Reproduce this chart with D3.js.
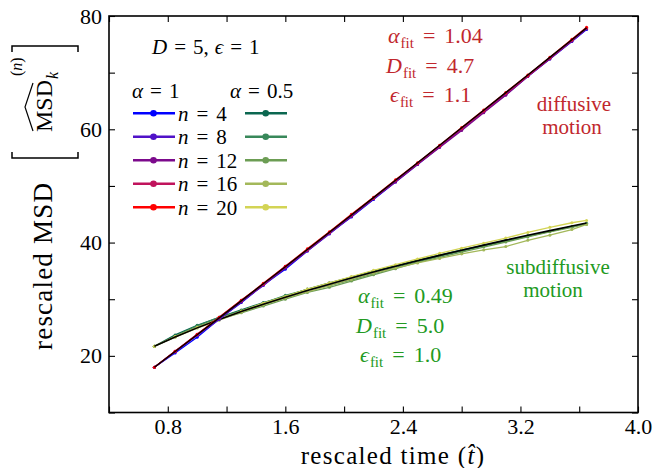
<!DOCTYPE html>
<html><head><meta charset="utf-8">
<script src="https://cdn.jsdelivr.net/npm/d3@7"></script>
<style>body{margin:0;background:#fff}svg{display:block}text{font-family:'Liberation Serif','Times New Roman',serif}</style>
</head><body>
<svg id="chart" width="654" height="468"></svg>
<script>
// ---- data ----
const tHat = [0.709,0.85,1.0,1.15,1.3,1.45,1.6,1.75,1.9,2.05,2.2,2.35,2.5,2.65,2.8,2.95,3.1,3.25,3.4,3.55,3.65];
const nValues = [4,8,12,16,20];
// alpha = 1 (diffusive)
const diffN4  = [18.0,20.5,23.3,26.5,29.4,32.5,35.3,38.5,41.6,44.5,47.6,50.7,53.8,56.9,60.0,63.1,66.1,69.3,72.4,75.5,77.6];
const diffN8  = [18.0,20.7,23.6,26.4,29.6,32.4,35.6,38.5,41.5,44.7,47.7,50.8,53.9,56.9,60.1,63.0,66.2,69.4,72.5,75.6,77.7];
const diffN12 = [18.0,20.8,23.8,26.6,29.5,32.6,35.5,38.6,41.7,44.6,47.8,50.7,53.8,56.8,59.8,62.9,66.0,69.3,72.4,75.6,77.8];
const diffN16 = [18.0,20.8,23.7,26.8,29.8,32.6,35.8,38.7,41.8,44.9,47.8,51.0,54.0,57.1,60.1,63.2,66.3,69.4,72.6,75.7,77.9];
const diffN20 = [18.0,20.8,23.8,26.8,29.8,32.8,35.8,38.9,41.9,45.0,48.0,51.1,54.1,57.2,60.3,63.4,66.5,69.6,72.7,75.9,78.0];
const diffFit = [18.00,20.77,23.73,26.71,29.71,32.72,35.74,38.77,41.82,44.87,47.93,51.00,54.08,57.17,60.26,63.36,66.47,69.58,72.70,75.82,77.91];
// alpha = 0.5 (subdiffusive)
const subN4  = [21.7,23.7,25.4,26.8,28.1,29.4,30.5,31.8,32.9,33.9,35.0,35.9,36.9,37.8,38.7,39.5,40.4,41.2,42.0,42.8,43.3];
const subN8  = [21.7,23.5,25.3,26.8,28.0,29.3,30.7,31.7,32.4,33.4,34.5,35.6,36.6,37.6,38.5,39.4,40.2,41.1,42.0,42.8,43.4];
const subN12 = [21.7,23.4,25.1,26.5,27.6,28.8,30.0,31.2,32.1,33.2,34.3,35.4,36.5,37.4,38.3,39.2,40.1,41.0,41.9,42.7,43.3];
const subN16 = [21.7,23.3,24.9,26.3,27.7,29.0,30.2,31.3,32.4,33.5,34.6,35.5,36.4,37.2,38.0,38.7,39.3,40.4,41.3,42.3,43.2];
const subN20 = [21.7,23.4,25.0,26.5,27.9,29.3,30.5,31.8,32.9,34.0,35.1,36.1,37.1,38.1,39.0,39.9,40.8,41.8,42.7,43.5,43.9];
const subFit = [21.70,23.34,24.94,26.42,27.81,29.11,30.35,31.53,32.66,33.75,34.80,35.81,36.79,37.74,38.65,39.55,40.43,41.28,42.11,42.92,43.46];
const diffColors = ["#0000ff","#5012c8","#7c0a8c","#c0135c","#ff0000"];
const subColors  = ["#0b6750","#38885a","#6c9d54","#a3b85a","#d3d455"];
const xTickValues = [0.4,0.8,1.2,1.6,2.0,2.4,2.8,3.2,3.6,4.0];
const xTickLabels = ["0.8","1.6","2.4","3.2","4.0"];
const yTickValues = [10,20,30,40,50,60,70,80];
const yTickLabels = ["20","40","60","80"];

const diffSeries = [diffN4,diffN8,diffN12,diffN16,diffN20];
const subSeries  = [subN4,subN8,subN12,subN16,subN20];

// ---- layout ----
const SERIF = "'Liberation Serif','Times New Roman',serif";
const L = 109, R = 638, T = 16, B = 412.5;
const svg = d3.select("#chart");
const x = d3.scaleLinear().domain([0.4, 4.0]).range([L, R]);
const y = d3.scaleLinear().domain([10, 80]).range([B, T]);

// axes (inward ticks on all four sides)
const fmtX = d => { const s = d3.format(".1f")(d); return xTickLabels.includes(s) ? s : ""; };
const fmtY = d => { const s = String(d); return yTickLabels.includes(s) ? s : ""; };
function styleAxis(g){ g.attr("font-family",SERIF); g.select(".domain").remove();
  g.selectAll(".tick line").attr("stroke","#000").attr("stroke-width",1.1);
  g.selectAll("text").style("font-family",SERIF).attr("font-size",22).attr("fill","#000"); }
svg.append("g").attr("transform",`translate(0,${B})`)
  .call(d3.axisBottom(x).tickValues(xTickValues).tickFormat(fmtX).tickSizeInner(-6).tickSizeOuter(0).tickPadding(6)).call(styleAxis);
svg.append("g").attr("transform",`translate(0,${T})`)
  .call(d3.axisTop(x).tickValues(xTickValues).tickFormat("").tickSizeInner(-6).tickSizeOuter(0)).call(styleAxis);
svg.append("g").attr("transform",`translate(${L},0)`)
  .call(d3.axisLeft(y).tickValues(yTickValues).tickFormat(fmtY).tickSizeInner(-6).tickSizeOuter(0).tickPadding(7)).call(styleAxis);
svg.append("g").attr("transform",`translate(${R},0)`)
  .call(d3.axisRight(y).tickValues(yTickValues).tickFormat("").tickSizeInner(-6).tickSizeOuter(0)).call(styleAxis);
svg.append("rect").attr("x",L).attr("y",T).attr("width",R-L).attr("height",B-T)
  .attr("fill","none").attr("stroke","#000").attr("stroke-width",1.6);

// ---- series ----
const line = d3.line().x((d,i)=>x(tHat[i])).y(d=>y(d));
function drawSeries(vals, color){
  svg.append("path").datum(vals).attr("d",line).attr("fill","none").attr("stroke",color).attr("stroke-width",1.3);
  svg.append("g").selectAll("circle").data(vals).join("circle")
    .attr("cx",(d,i)=>x(tHat[i])).attr("cy",d=>y(d)).attr("r",1.5).attr("fill",color);
}
subSeries.forEach((s,i)=>drawSeries(s, subColors[i]));
svg.append("path").datum(subFit).attr("d",line).attr("fill","none").attr("stroke","#000").attr("stroke-width",1.6);
diffSeries.forEach((s,i)=>drawSeries(s, diffColors[i]));
svg.append("path").datum(diffFit).attr("d",line).attr("fill","none").attr("stroke","#000").attr("stroke-width",1.4);

// ---- math-like text helper ----
function mtext(px, py, parts, size, color, anchor){
  const t = svg.append("text").attr("x",px).attr("y",py).attr("font-size",size).attr("fill",color)
    .attr("text-anchor",anchor||"start");
  parts.forEach(p=>{
    const ts = t.append("tspan").text(p.s);
    if(p.i) ts.attr("font-style","italic");
    if(p.fs) ts.attr("font-size",p.fs);
    if(p.dx) ts.attr("dx",p.dx);
    if(p.dy) ts.attr("dy",p.dy);
  });
  return t;
}
function fitBlock(x0, y0, a, D, e, color){
  mtext(x0[0], y0[0], [{s:"α",i:1},{s:"fit",fs:15,dy:5,dx:1},{s:"=",dy:-5,dx:9},{s:a,dx:9}], 22, color);
  mtext(x0[1], y0[1], [{s:"D",i:1},{s:"fit",fs:15,dy:5,dx:1},{s:"=",dy:-5,dx:9},{s:D,dx:9}], 22, color);
  mtext(x0[2], y0[2], [{s:"ϵ",i:1},{s:"fit",fs:15,dy:5,dx:1},{s:"=",dy:-5,dx:9},{s:e,dx:9}], 22, color);
}
const red = "#c1272d", green = "#229a22";
fitBlock([388,386,390],[43,73,102],"1.04","4.7","1.1",red);
fitBlock([358,356,360],[303,333,362],"0.49","5.0","1.0",green);
mtext(574,111,[{s:"diffusive"}],21,red,"middle");
mtext(572,134,[{s:"motion"}],21,red,"middle");
mtext(558,274,[{s:"subdiffusive"}],21,green,"middle");
mtext(553,297,[{s:"motion"}],21,green,"middle");

// ---- legend ----
mtext(152,54,[{s:"D",i:1},{s:"=",dx:7},{s:"5,",dx:7},{s:"ϵ",i:1,dx:6},{s:"=",dx:7},{s:"1",dx:7}],21,"#000");
mtext(132,98,[{s:"α",i:1},{s:"=",dx:7},{s:"1",dx:7}],21,"#000");
mtext(230,98,[{s:"α",i:1},{s:"=",dx:7},{s:"0.5",dx:7}],21,"#000");
const rowY = d3.scaleLinear().domain([0,4]).range([113.3,207.3]);
nValues.forEach((n,i)=>{
  const yy = rowY(i);
  svg.append("line").attr("x1",133).attr("x2",175).attr("y1",yy).attr("y2",yy).attr("stroke",diffColors[i]).attr("stroke-width",2.6);
  svg.append("circle").attr("cx",153.5).attr("cy",yy).attr("r",3.3).attr("fill",diffColors[i]);
  svg.append("line").attr("x1",245).attr("x2",287).attr("y1",yy).attr("y2",yy).attr("stroke",subColors[i]).attr("stroke-width",2.6);
  svg.append("circle").attr("cx",265.7).attr("cy",yy).attr("r",3.3).attr("fill",subColors[i]);
  mtext(178,yy+7.5,[{s:"n",i:1},{s:"=",dx:8},{s:String(n),dx:8}],21,"#000");
});

// ---- axis labels ----
mtext(393,464,[{s:"rescaled time ("},{s:"t̂",i:1},{s:")"}],25,"#000","middle").attr("letter-spacing",1.3);
const yl = svg.append("g").attr("transform","rotate(-90)");
yl.append("text").attr("x",-350).attr("y",52).attr("font-size",27).attr("letter-spacing",1.2).text("rescaled MSD");
const msd = yl.append("text").attr("x",-132).attr("y",52).attr("font-size",24);
msd.append("tspan").text("MSD");
msd.append("tspan").attr("font-size",16).attr("font-style","italic").attr("dy",6).attr("dx",1).text("k");
msd.append("tspan").attr("font-size",16).attr("x",-76).attr("dy",-36).text("(");
msd.append("tspan").attr("font-size",16).attr("font-style","italic").text("n");
msd.append("tspan").attr("font-size",16).text(")");
// brackets and wide hat
svg.append("path").attr("d","M12,152 L12,158 L78,158 L78,152").attr("fill","none").attr("stroke","#000").attr("stroke-width",1.5);
svg.append("path").attr("d","M12,52 L12,46 L78,46 L78,52").attr("fill","none").attr("stroke","#000").attr("stroke-width",1.5);
svg.append("path").attr("d","M33,131 L25,107 L33,83").attr("fill","none").attr("stroke","#000").attr("stroke-width",1.2);
</script>
</body></html>
